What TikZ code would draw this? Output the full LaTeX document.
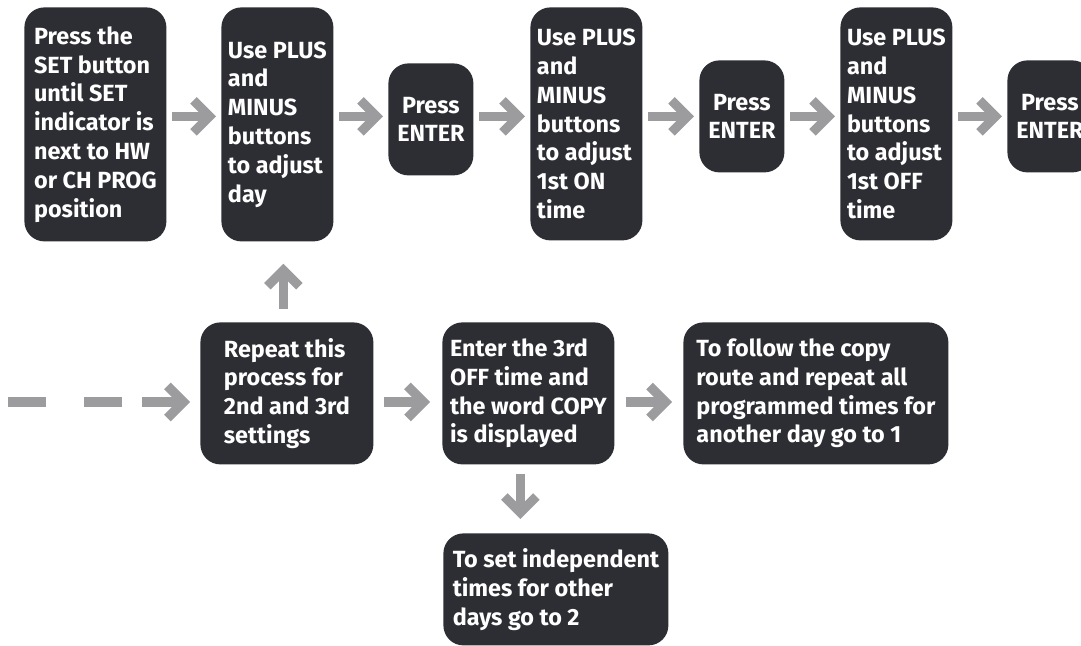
\documentclass[tikz,border=0pt]{standalone}
\usepackage{fontspec}
\setmainfont{Fira Sans}
\usetikzlibrary{arrows.meta}
\definecolor{boxgrey}{HTML}{2C2E33}
\definecolor{arrowgrey}{HTML}{9C9C9E}
\begin{document}
\begin{tikzpicture}[x=0.5pt,y=-0.5pt,
    stepbox/.style={fill=boxgrey, text=white, rounded corners=10pt, inner sep=0pt,
      anchor=north west, align=left, font=\bfseries\fontsize{11.7}{14.4}\selectfont},
    enterbox/.style={stepbox, align=center, minimum width=42.5pt, minimum height=56pt},
    flow/.style={draw=arrowgrey, line width=4.6pt, shorten <=2.5pt, shorten >=2.5pt,
      -{Straight Barb[length=8pt,width=16pt]}},
    gapline/.style={draw=arrowgrey, line width=4.6pt, dash pattern=on 19pt off 19pt}]
    \clip (0,0) rectangle (1081,646);
    \node[stepbox, minimum width=71pt, minimum height=117pt] (pressset) at (24,7)
      {Press the\\SET button\\until SET\\indicator is\\next to HW\\or CH PROG\\position};
    \node[stepbox, minimum width=56pt, minimum height=117pt] (adjday) at (221,7)
      {Use PLUS\\and\\MINUS\\buttons\\to adjust\\day};
    \node[enterbox] (enterA) at (388,63) {Press\\ENTER};
    \node[stepbox, minimum width=56pt, minimum height=116.5pt] (adjon) at (530,7)
      {Use PLUS\\and\\MINUS\\buttons\\to adjust\\1st ON\\time};
    \node[enterbox] (enterB) at (699,60) {Press\\ENTER};
    \node[stepbox, minimum width=56pt, minimum height=116.5pt] (adjoff) at (840,7)
      {Use PLUS\\and\\MINUS\\buttons\\to adjust\\1st OFF\\time};
    \node[enterbox] (enterC) at (1007,60) {Press\\ENTER};
    \node[stepbox, minimum width=86.5pt, minimum height=71pt] (repeat) at (200,322)
      {Repeat this\\process for\\2nd and 3rd\\settings};
    \node[stepbox, minimum width=86pt, minimum height=71pt] (copy) at (442,322)
      {Enter the 3rd\\OFF time and\\the word COPY\\is displayed};
    \node[stepbox, minimum width=132.5pt, minimum height=71pt] (follow) at (683,322)
      {To follow the copy\\route and repeat all\\programmed times for\\another day go to 1};
    \node[stepbox, minimum width=112.5pt, minimum height=56pt] (indep) at (443,533)
      {To set independent\\times for other\\days go to 2};
    \draw[flow] (pressset.east |- enterB.west) -- (adjday.west |- enterB.west);
    \draw[flow] (adjday.east |- enterB.west) -- (enterA.west |- enterB.west);
    \draw[flow] (enterA.east |- enterB.west) -- (adjon.west |- enterB.west);
    \draw[flow] (adjon.east |- enterB.west) -- (enterB.west);
    \draw[flow] (enterB.east) -- (adjoff.west |- enterB.east);
    \draw[flow] (adjoff.east |- enterC.west) -- (enterC.west);
    \draw[flow, shorten <=6.5pt, shorten >=11pt] ([xshift=-1.75pt]repeat.north)
      -- ([xshift=-1.75pt]repeat.north |- adjday.south);
    \coordinate (loopin) at (8,402);
    \coordinate (loopgap) at (142,402);
    \draw[gapline] (loopin) -- (122,402);
    \draw[flow, shorten <=0pt, shorten >=5pt] (loopgap) -- (repeat.west |- loopgap);
    \draw[flow, shorten <=5pt, shorten >=6pt] (repeat.east |- loopgap) -- (copy.west |- loopgap);
    \draw[flow, shorten <=5.5pt, shorten >=5.5pt] (copy.east |- loopgap) -- (follow.west |- loopgap);
    \draw[flow, shorten <=4.5pt, shorten >=7pt] ([xshift=-4pt]copy.south)
      -- ([xshift=-4pt]copy.south |- indep.north);
\end{tikzpicture}
\end{document}
